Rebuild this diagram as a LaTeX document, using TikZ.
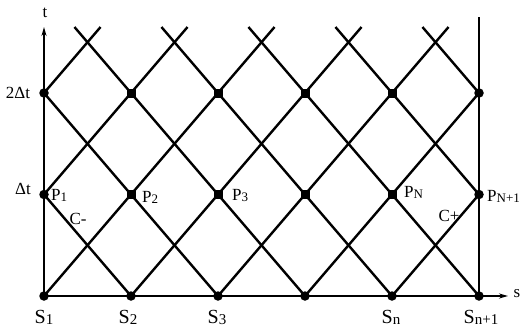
\documentclass[tikz,border=0pt]{standalone}
\usepackage{fontspec}
\setmainfont{Liberation Serif}
\usetikzlibrary{arrows.meta}
\newcommand\lo[2]{\raisebox{-1pt}{\fontsize{#1}{#1}\selectfont #2}}
\begin{document}
\begin{tikzpicture}[x=1pt,y=-1pt,
  grid/.style={line width=2.4pt},
  axis/.style={line width=2pt},
  arr/.style={axis,-{Stealth[length=9pt,width=5pt]}},
  circ/.style={circle,fill=black,inner sep=0pt,minimum size=9.5pt},
  sq/.style={rectangle,fill=black,inner sep=0pt,minimum size=9pt},
  plab/.style={font=\fontsize{17}{19}\selectfont,inner sep=0pt},
  slab/.style={font=\fontsize{20}{22}\selectfont,inner sep=0pt}]
\useasboundingbox (0,0) rectangle (522,329);
% grid coordinates
\foreach \i in {0,...,5}{
  \foreach \j in {0,1,2}{
    \coordinate (p\i\j) at ({44+87*\i},{296-101.5*\j});
  }
}
\foreach \k in {0,...,4}{
  \coordinate (ur\k) at ({44+87*(\k+0.65)},{296-101.5*2.65});
  \coordinate (ul\k) at ({44+87*(\k+0.35)},{296-101.5*2.65});
}
\coordinate (ttip) at (44,27);
\coordinate (stip) at (508,296);
\coordinate (rtop) at (479,17);
% axes
\draw[arr] (p00) -- (ttip);
\draw[arr] (p00) -- (stip);
\draw[axis] (p50) -- (rtop);
% up-right characteristics
\draw[grid] (p00) -- (ur2);
\draw[grid] (p01) -- (ur1);
\draw[grid] (p02) -- (ur0);
\draw[grid] (p10) -- (ur3);
\draw[grid] (p20) -- (ur4);
\draw[grid] (p30) -- (p52);
\draw[grid] (p40) -- (p51);
% down-right characteristics
\draw[grid] (p02) -- (p20);
\draw[grid] (p01) -- (p10);
\draw[grid] (ul0) -- (p30);
\draw[grid] (ul1) -- (p40);
\draw[grid] (ul2) -- (p50);
\draw[grid] (ul3) -- (p51);
\draw[grid] (ul4) -- (p52);
% markers
\foreach \i in {0,...,5}{ \node[circ] (m\i0) at (p\i0) {}; }
\node[circ] (m01) at (p01) {};
\node[circ] (m02) at (p02) {};
\node[circ] (m51) at (p51) {};
\node[circ] (m52) at (p52) {};
\foreach \i in {1,...,4}{
  \node[sq] (m\i1) at (p\i1) {};
  \node[sq] (m\i2) at (p\i2) {};
}
% labels
\node[plab] (lt) at (45,13) {t};
\node[plab] (ls) at (517,294) {s};
\node[plab] (l2dt) at (18,93) {2Δt};
\node[plab] (ldt) at (23,189) {Δt};
\node[plab,anchor=west] (lp1) at (51,195) {P\lo{13}{1}};
\node[plab,anchor=west] (lp2) at (142,197) {P\lo{13}{2}};
\node[plab,anchor=west] (lp3) at (232,195) {P\lo{13}{3}};
\node[plab,anchor=west] (lpn) at (404,192) {P\lo{13}{N}};
\node[plab,anchor=west] (lpn1) at (487,196) {P\lo{13}{N+1}};
\node[plab] (lcm) at (78,219) {C-};
\node[plab] (lcp) at (449,216) {C+};
\node[slab] (ls1) at (44,317) {S\lo{15}{1}};
\node[slab] (ls2) at (128,317) {S\lo{15}{2}};
\node[slab] (ls3) at (217,317) {S\lo{15}{3}};
\node[slab] (lsn) at (391,317) {S\lo{15}{n}};
\node[slab] (lsn1) at (481,317) {S\lo{15}{n+1}};
\end{tikzpicture}
\end{document}
